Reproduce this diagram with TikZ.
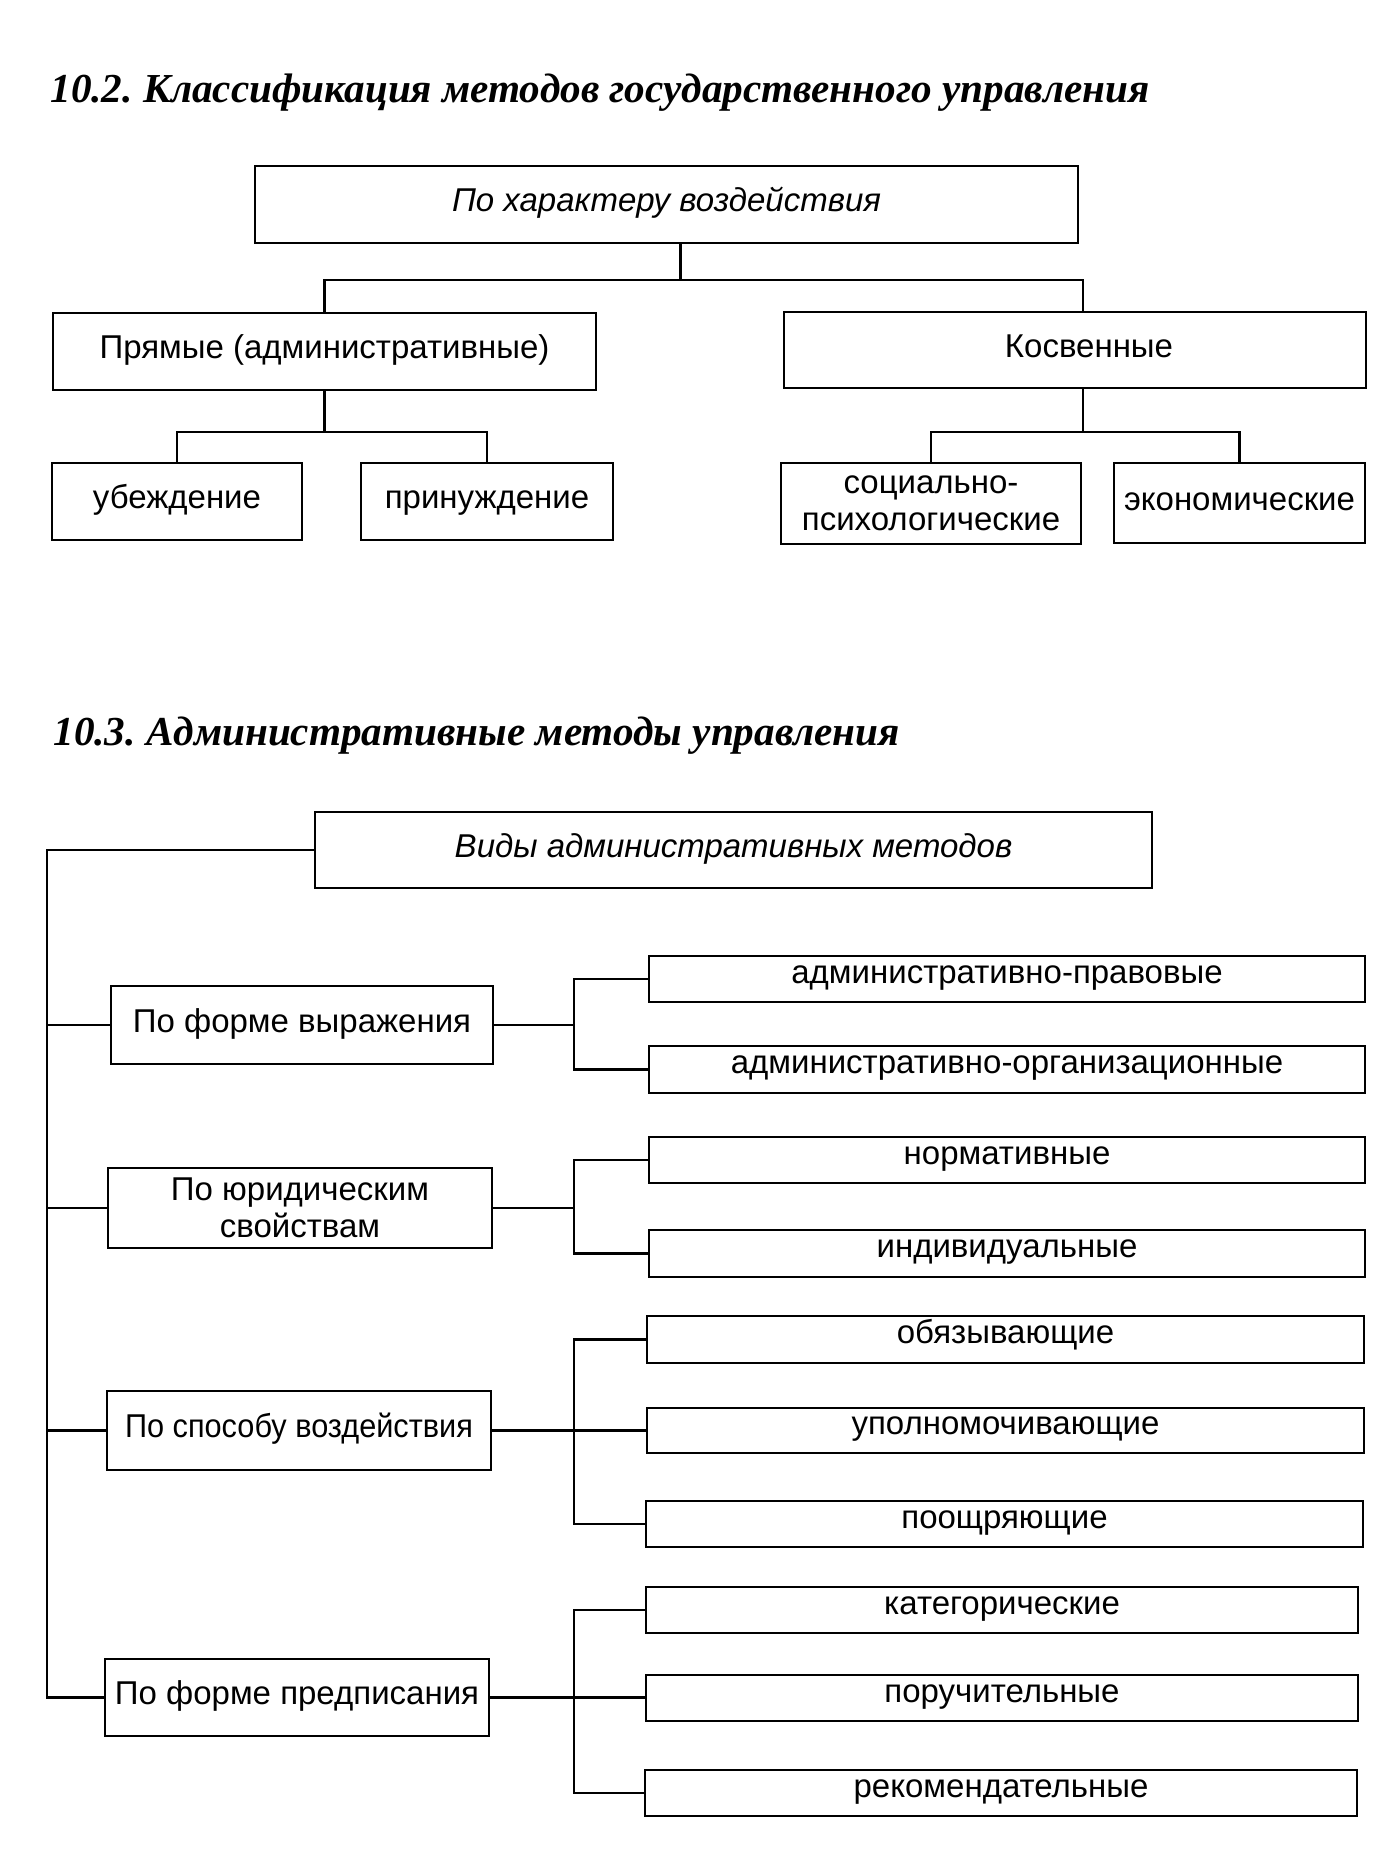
\documentclass[tikz,border=0pt]{standalone}
\usepackage{fontspec}
\setmainfont{Liberation Serif}
\newfontfamily\arialf{Liberation Sans}
\usetikzlibrary{calc}
\frenchspacing
\tikzset{
  boxbase/.style={draw, line width=1.4pt, inner sep=0pt, align=center},
  mainbox/.style={boxbase, font=\arialf\fontsize{16.5}{19}\selectfont, text height=0.72em, text depth=0em},
  italbox/.style={mainbox, font=\arialf\itshape\fontsize{16.5}{19}\selectfont},
  twobox/.style={boxbase, font=\arialf\fontsize{16.5}{18.5}\selectfont},
  smallbox/.style={boxbase, font=\arialf\fontsize{16.5}{19}\selectfont, text height=0.6em, text depth=0.16em},
  conn/.style={line width=1.2pt},
  titletext/.style={anchor=base west, inner sep=0pt, font=\bfseries\itshape\fontsize{20.6}{24}\selectfont}
}
\newcommand\mybox[7]{%
  \pgfmathsetmacro\cxx{(#3+#5)/2}\pgfmathsetmacro\cyy{(#4+#6)/2}%
  \pgfmathsetmacro\www{(#5-#3)*0.5}\pgfmathsetmacro\hhh{(#6-#4)*0.5}%
  \node[#1, minimum width=\www pt, minimum height=\hhh pt] (#2) at (\cxx,\cyy) {#7};}
\begin{document}
\begin{tikzpicture}[x=0.5pt, y=-0.5pt]
\useasboundingbox (0,0) rectangle (1390,1862);
% ---- 10.2 ----
\node[titletext] (t1) at (50,103) {10.2. Классификация методов государственного управления};
\mybox{italbox}{A}{255}{166}{1078}{243}{По характеру воздействия}
\mybox{mainbox}{P}{53}{313}{596}{390}{Прямые (административные)}
\mybox{mainbox}{K}{784}{312}{1366}{388}{\hspace*{14pt}Косвенные}
\mybox{mainbox}{U}{52}{463}{302}{540}{убеждение}
\mybox{mainbox}{Pr}{361}{463}{613}{540}{принуждение}
\mybox{twobox}{S}{781}{463}{1081}{544}{социально-\\психологические}
\mybox{mainbox}{E}{1114}{463}{1365}{543}{экономические}
\coordinate (b1) at (0,280);
\coordinate (b2) at (0,432);
\coordinate (As) at ($(A.south)+(14,0)$);
\draw[conn] (As) -- (As |- b1) -| (P.north);
\draw[conn] (As |- b1) -| ($(K.north)+(8,0)$);
\draw[conn] (P.south) -- (P.south |- b2) -| (U.north);
\draw[conn] (P.south |- b2) -| (Pr.north);
\draw[conn] ($(K.south)+(8,0)$) -- ($(K.south |- b2)+(8,0)$) -| (S.north);
\draw[conn] ($(K.south |- b2)+(8,0)$) -| (E.north);
% ---- 10.3 ----
\node[titletext] (t2) at (53,745) {10.3. Административные методы управления};
\mybox{italbox}{V}{315}{812}{1152}{888}{Виды административных методов}
\mybox{mainbox}{F1}{111}{986}{493}{1064}{По форме выражения}
\mybox{smallbox}{R1a}{649}{956}{1365}{1002}{административно-правовые}
\mybox{smallbox}{R1b}{649}{1046}{1365}{1093}{административно-организационные}
\mybox{twobox}{F2}{108}{1168}{492}{1248}{По юридическим\\свойствам}
\mybox{smallbox}{R2a}{649}{1137}{1365}{1183}{нормативные}
\mybox{smallbox}{R2b}{649}{1230}{1365}{1277}{индивидуальные}
\mybox{mainbox}{F3}{107}{1391}{491}{1470}{\scalebox{0.93}[1]{По способу воздействия}}
\mybox{smallbox}{R3a}{647}{1316}{1364}{1363}{обязывающие}
\mybox{smallbox}{R3b}{647}{1408}{1364}{1453}{уполномочивающие}
\mybox{smallbox}{R3c}{646}{1501}{1363}{1547}{поощряющие}
\mybox{mainbox}{F4}{105}{1659}{489}{1736}{По форме предписания}
\mybox{smallbox}{R4a}{646}{1587}{1358}{1633}{категорические}
\mybox{smallbox}{R4b}{646}{1675}{1358}{1721}{поручительные}
\mybox{smallbox}{R4c}{645}{1770}{1357}{1816}{рекомендательные}
\coordinate (tr) at (47,0);
\coordinate (bx) at (574,0);
% trunk
\draw[conn] (V.west) -| (tr |- F4.west) -- (F4.west);
\draw[conn] (tr |- F1.west) -- (F1.west);
\draw[conn] (tr |- F2.west) -- (F2.west);
\draw[conn] (tr |- F3.west) -- (F3.west);
% group 1
\draw[conn] (F1.east) -- (bx |- F1.east);
\draw[conn] (R1a.west) -- (bx |- R1a.west) -- (bx |- R1b.west) -- (R1b.west);
% group 2
\draw[conn] (F2.east) -- (bx |- F2.east);
\draw[conn] (R2a.west) -- (bx |- R2a.west) -- (bx |- R2b.west) -- (R2b.west);
% group 3
\draw[conn] (F3.east) -- (R3b.west);
\draw[conn] (R3a.west) -- (bx |- R3a.west) -- (bx |- R3c.west) -- (R3c.west);
% group 4
\draw[conn] (F4.east) -- (F4.east -| R4b.west);
\draw[conn] (R4a.west) -- (bx |- R4a.west) -- (bx |- R4c.west) -- (R4c.west);
\end{tikzpicture}
\end{document}
